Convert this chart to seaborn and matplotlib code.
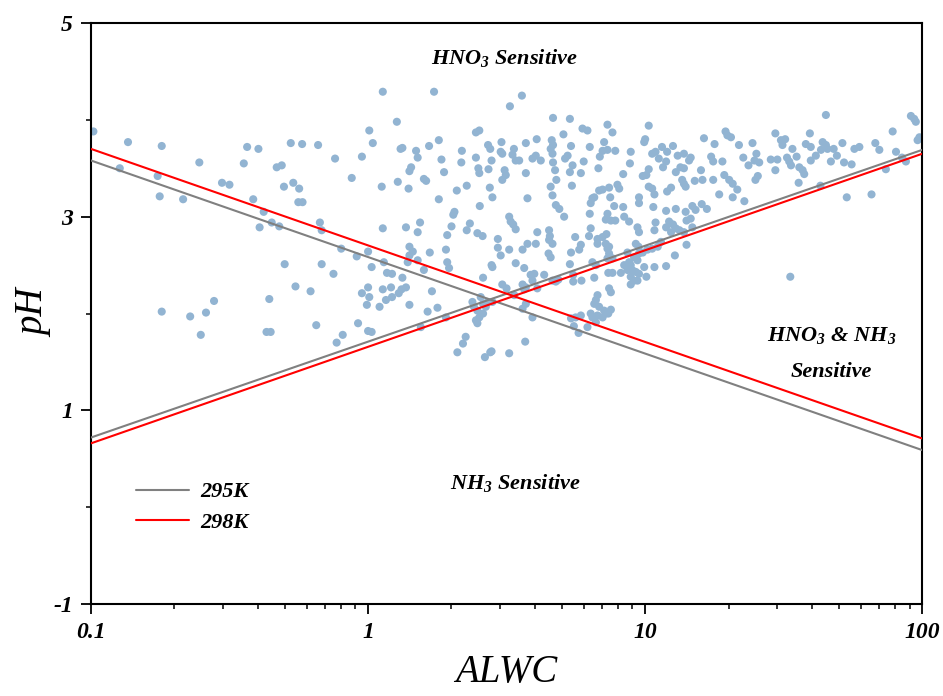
import pandas as pd
import numpy as np
import matplotlib
matplotlib.use('Agg')
import matplotlib.pyplot as plt
import seaborn as sns

# datos (ALWC, pH)
alwc = [
    0.102, 0.136, 0.18, 0.127, 0.246, 0.174, 0.177, 0.215, 0.297, 0.316, 0.356, 0.366, 0.402, 0.385, 0.42, 0.406,
    0.449, 0.478, 0.468, 0.488, 0.526, 0.578, 0.66, 0.497, 0.537, 0.564, 0.56, 0.58, 0.76, 0.873, 0.67, 0.68,
    0.80, 0.91, 0.50, 0.68, 0.75, 0.547, 0.62, 0.18, 0.228, 0.26, 0.278, 0.249, 0.44, 0.43, 0.445, 0.65,
    0.77, 0.81, 0.92,
    1.13, 1.73, 3.59, 3.25, 1.27, 1.01, 1.04, 0.95, 2.45, 2.52, 1.80, 1.66, 1.31, 1.33, 1.49, 1.51,
    1.84, 2.18, 2.17, 2.45, 2.71, 2.76, 2.79, 3.03, 3.01, 3.05, 3.36, 3.32, 3.41, 3.51, 3.71, 4.06,
    3.92, 4.03, 4.20, 1.43, 1.41, 1.88, 2.50, 2.52, 2.72, 3.11, 3.14, 3.05, 3.71, 1.28, 1.12, 1.40,
    1.59, 1.62, 1.80, 2.09, 2.27, 2.75, 2.81, 2.53, 3.76, 2.05, 2.03, 3.23, 3.27, 3.34, 3.41, 1.13,
    1.37, 1.54, 1.51, 2.0, 1.93, 2.33, 2.27, 2.48, 2.59, 2.94, 2.94, 3.01, 3.23, 3.61, 3.76, 4.03,
    4.08, 4.53, 4.48, 1.41, 1.45, 1.41, 1.39, 1.51, 1.67, 1.91, 1.93, 1.96, 1.59, 1.0, 1.14, 1.03,
    1.17, 1.22, 1.33, 2.60, 2.79, 2.81, 3.41, 3.66, 3.86, 3.98, 4.32, 0.95, 1.0, 1.01, 0.99, 1.13,
    1.21, 1.16, 1.22, 1.29, 1.32, 1.37, 1.10, 1.41, 1.70, 1.64, 1.78, 1.55, 1.91, 1.0, 1.03, 2.38,
    2.41, 2.48, 2.55, 2.60, 2.66, 2.60, 2.52, 2.45, 2.48, 2.70, 2.81, 3.05, 3.16, 3.37, 3.61, 3.66,
    3.71, 3.92, 4.08, 3.61, 3.71, 3.92, 2.25, 2.20, 2.10, 2.64, 2.76, 2.79, 3.23, 3.69,
    4.65, 5.35, 4.6, 4.65, 4.56, 4.63, 5.07, 5.94, 6.19, 7.31, 7.62, 10.3, 16.3, 19.5, 19.8, 20.4,
    17.8, 21.8, 5.40, 6.31, 7.11, 7.02, 7.31, 7.80, 6.86, 5.14, 5.25, 4.65, 6.0, 5.47, 5.35, 4.73,
    4.78, 5.86, 6.78, 8.87, 8.81, 8.33, 9.92, 10.0, 10.6, 10.9, 11.5, 12.0, 12.6, 11.2, 11.9, 11.6,
    13.1, 13.8, 14.4, 14.6, 13.4, 13.8, 12.9, 10.3, 10.1, 9.8, 17.3, 17.6, 19.0, 15.9, 15.1, 16.1,
    19.3, 20.1, 20.7, 17.6, 13.6, 13.8, 14.0, 21.5, 18.5, 20.7, 22.8, 10.3, 10.6, 10.8, 12.0, 12.4,
    9.5, 9.5, 10.7, 8.33, 7.41, 7.94, 8.06, 7.48, 6.45, 6.55, 6.36, 6.82, 7.02, 7.73, 4.56, 4.63,
    4.76, 4.9, 5.10, 5.44, 6.31, 7.31, 7.21, 7.52, 7.80, 8.40, 8.75, 9.38, 9.5, 11.9, 12.9, 10.9,
    10.8, 12.2, 11.9, 12.6, 12.9, 12.4, 13.3, 13.8, 14.0, 14.8, 15.2, 14.6, 14.1, 14.8, 16.0, 16.7,
    14.1, 12.8, 11.9, 4.50, 4.50, 4.63, 4.56, 5.59, 6.36, 6.27, 6.73, 6.73, 7.02, 7.25, 7.21, 7.31,
    5.86, 5.78, 5.40, 5.35, 7.41, 7.41, 7.31, 7.62, 6.45, 6.64, 8.63, 9.25, 9.46, 9.5, 9.12, 9.38,
    9.8, 10.2, 10.6, 11.1, 11.4, 8.75, 8.40, 8.87, 8.63, 8.98, 9.25, 9.5, 8.87, 9.12, 9.38, 10.1,
    9.92, 10.8, 8.17, 7.36, 7.62, 6.55, 5.89, 5.50, 5.50, 4.63, 4.76, 4.86, 8.87, 7.41, 7.52, 6.73,
    6.64, 6.55, 6.82, 7.11, 7.52, 7.36, 6.36, 6.45, 6.73, 7.02, 7.21, 6.64, 5.40, 5.61, 5.86, 5.53,
    5.75, 6.19,
    44.9, 91, 93.5, 94.8, 78.2, 29.5, 39.3, 30.9, 32.0, 31.3, 24.4, 38.0, 39.6, 43.7, 44.9, 45.5,
    43.1, 47.9, 51.5, 56.9, 59.3, 67.7, 70, 96.2, 97.7, 34.0, 35.2, 32.5, 33.1, 33.6, 28.4, 30.0,
    25.2, 24.8, 25.8, 23.6, 22.6, 36.0, 37.0, 37.5, 39.6, 41.3, 46.8, 49.2, 52.2, 55.6, 80.4, 84.5,
    87.3, 73.9, 29.5, 25.5, 25.0, 35.8, 42.9, 53.4, 65.6, 33.4,
]
ph = [
    3.88, 3.77, 3.73, 3.50, 3.56, 3.42, 3.21, 3.18, 3.35, 3.33, 3.55, 3.72, 3.70, 3.18, 3.05, 2.89,
    2.94, 2.90, 3.51, 3.53, 3.76, 3.75, 3.74, 3.31, 3.35, 3.29, 3.15, 3.15, 3.60, 3.40, 2.94, 2.86,
    2.67, 2.59, 2.51, 2.51, 2.41, 2.28, 2.23, 2.02, 1.97, 2.01, 2.13, 1.78, 2.15, 1.81, 1.81, 1.88,
    1.70, 1.78, 1.90,
    4.29, 4.29, 4.25, 4.14, 3.98, 3.89, 3.76, 3.62, 3.87, 3.89, 3.79, 3.73, 3.70, 3.71, 3.68, 3.61,
    3.59, 3.68, 3.56, 3.61, 3.74, 3.70, 3.58, 3.77, 3.67, 3.65, 3.70, 3.64, 3.58, 3.58, 3.76, 3.80,
    3.60, 3.63, 3.58, 3.51, 3.47, 3.46, 3.50, 3.45, 3.49, 3.48, 3.43, 3.38, 3.45, 3.36, 3.31, 3.29,
    3.39, 3.37, 3.18, 3.27, 3.32, 3.30, 3.20, 3.11, 3.19, 3.05, 3.02, 3.00, 2.95, 2.92, 2.87, 2.88,
    2.89, 2.94, 2.84, 2.90, 2.81, 2.93, 2.86, 2.83, 2.80, 2.77, 2.68, 2.60, 2.66, 2.66, 2.72, 2.72,
    2.84, 2.80, 2.62, 2.69, 2.64, 2.60, 2.53, 2.55, 2.63, 2.66, 2.53, 2.47, 2.45, 2.64, 2.53, 2.48,
    2.42, 2.41, 2.37, 2.37, 2.50, 2.48, 2.52, 2.47, 2.40, 2.41, 2.40, 2.21, 2.27, 2.17, 2.09, 2.25,
    2.27, 2.14, 2.17, 2.21, 2.25, 2.27, 2.07, 2.09, 2.23, 2.02, 2.06, 1.86, 1.96, 1.82, 1.81, 2.12,
    2.07, 2.03, 2.17, 2.10, 2.07, 2.00, 1.96, 1.93, 1.90, 2.12, 2.12, 2.30, 2.26, 2.19, 2.30, 2.25,
    2.27, 2.34, 2.26, 2.05, 2.10, 1.96, 1.76, 1.69, 1.60, 1.55, 1.60, 1.61, 1.59, 1.71,
    4.02, 4.01, 3.79, 3.74, 3.70, 3.65, 3.85, 3.91, 3.89, 3.95, 3.87, 3.94, 3.81, 3.88, 3.84, 3.82,
    3.75, 3.74, 3.73, 3.72, 3.77, 3.68, 3.69, 3.68, 3.62, 3.60, 3.63, 3.56, 3.57, 3.53, 3.46, 3.48,
    3.38, 3.45, 3.50, 3.67, 3.55, 3.44, 3.77, 3.80, 3.65, 3.67, 3.72, 3.67, 3.73, 3.60, 3.57, 3.51,
    3.63, 3.65, 3.58, 3.61, 3.51, 3.50, 3.46, 3.49, 3.43, 3.42, 3.62, 3.57, 3.57, 3.48, 3.37, 3.38,
    3.43, 3.38, 3.34, 3.38, 3.38, 3.34, 3.31, 3.28, 3.23, 3.20, 3.16, 3.31, 3.29, 3.23, 3.26, 3.30,
    3.20, 3.14, 3.10, 3.10, 3.30, 3.33, 3.29, 3.20, 3.19, 3.20, 3.14, 3.27, 3.28, 3.11, 3.31, 3.22,
    3.12, 3.08, 3.00, 3.32, 3.03, 3.03, 2.97, 2.96, 2.96, 3.00, 2.95, 2.89, 2.84, 3.06, 3.08, 2.94,
    2.86, 2.95, 2.89, 2.92, 2.88, 2.84, 2.86, 2.84, 3.05, 3.11, 3.07, 2.98, 2.96, 2.89, 3.13, 3.08,
    2.71, 2.60, 2.49, 2.86, 2.76, 2.72, 2.58, 2.79, 2.88, 2.80, 2.77, 2.72, 2.79, 2.82, 2.72, 2.67,
    2.71, 2.66, 2.63, 2.51, 2.69, 2.62, 2.57, 2.57, 2.53, 2.50, 2.63, 2.72, 2.69, 2.62, 2.58, 2.55,
    2.63, 2.66, 2.67, 2.69, 2.74, 2.53, 2.50, 2.50, 2.45, 2.45, 2.43, 2.41, 2.38, 2.34, 2.34, 2.38,
    2.48, 2.48, 2.42, 2.42, 2.42, 2.37, 2.34, 2.33, 2.40, 2.34, 2.33, 2.35, 2.30, 2.26, 2.22, 2.19,
    2.14, 2.10, 2.07, 2.03, 2.04, 2.00, 2.00, 1.96, 1.98, 1.96, 2.00, 1.91, 1.95, 1.96, 1.98, 1.87,
    1.80, 1.86,
    4.05, 4.04, 4.01, 3.98, 3.88, 3.86, 3.86, 3.79, 3.80, 3.74, 3.76, 3.75, 3.72, 3.77, 3.74, 3.70,
    3.69, 3.70, 3.76, 3.70, 3.72, 3.76, 3.69, 3.79, 3.82, 3.70, 3.62, 3.61, 3.57, 3.53, 3.59, 3.59,
    3.65, 3.58, 3.56, 3.53, 3.61, 3.51, 3.48, 3.44, 3.58, 3.63, 3.57, 3.63, 3.56, 3.54, 3.67, 3.61,
    3.57, 3.49, 3.48, 3.42, 3.38, 3.35, 3.32, 3.20, 3.23, 2.38,
]

# lineas de sensibilidad (extremos en ALWC = 0.1 y 100)
linea_alwc = [0.1, 100, 0.1, 100]
ph_295 = [3.58, 0.59, 0.72, 3.69]
ph_298 = [3.70, 0.71, 0.66, 3.65]
tramo = ['baja', 'baja', 'sube', 'sube']

df_puntos = pd.DataFrame({'ALWC': alwc, 'pH': ph})
df_lineas = pd.concat([
    pd.DataFrame({'ALWC': linea_alwc, 'pH': ph_295, 'T': '295K', 'tramo': tramo}),
    pd.DataFrame({'ALWC': linea_alwc, 'pH': ph_298, 'T': '298K', 'tramo': tramo}),
])

sns.set_style('ticks')
plt.rcParams['font.family'] = ['Liberation Serif', 'DejaVu Serif']
plt.rcParams['font.weight'] = 'bold'
plt.rcParams['font.style'] = 'italic'
plt.rcParams['mathtext.fontset'] = 'custom'
plt.rcParams['mathtext.rm'] = 'Liberation Serif:bold:italic'
plt.rcParams['mathtext.it'] = 'Liberation Serif:bold:italic'
plt.rcParams['mathtext.bf'] = 'Liberation Serif:bold:italic'
plt.rcParams['axes.unicode_minus'] = False
for clave in ['text.color', 'axes.labelcolor', 'xtick.color', 'ytick.color', 'axes.edgecolor']:
    plt.rcParams[clave] = 'black'

fig = plt.figure(figsize=(9.43, 6.96), dpi=100)
ax = fig.add_axes([0.0965, 0.132, 0.8815, 0.835])

sns.scatterplot(data=df_puntos, x='ALWC', y='pH', color='#92b4d2', s=34,
                edgecolor='none', linewidth=0, ax=ax, zorder=2)
sns.lineplot(data=df_lineas, x='ALWC', y='pH', hue='T', units='tramo', estimator=None,
             palette={'295K': '#808080', '298K': '#ff0000'}, linewidth=1.5, ax=ax, zorder=3)

ax.set_xscale('log')
ax.set_xlim(0.1, 100)
ax.set_ylim(-1, 5)
ax.set_xticks([0.1, 1, 10, 100])
ax.set_xticklabels(['0.1', '1', '10', '100'])
ax.set_yticks([-1, 1, 3, 5])
ax.set_yticks([0, 2, 4], minor=True)
ax.tick_params(which='major', length=7, width=1.3, labelsize=17, direction='out', pad=6)
ax.tick_params(which='minor', length=3.5, width=1.1, direction='out')
for lado in ax.spines.values():
    lado.set_linewidth(1.5)
    lado.set_visible(True)

ax.set_xlabel('ALWC', fontsize=28, labelpad=8)
ax.set_ylabel('pH', fontsize=28, labelpad=0)

ax.text(3.1, 4.64, r'HNO$_3$ Sensitive', fontsize=16, ha='center', va='center')
ax.text(3.4, 0.25, r'NH$_3$ Sensitive', fontsize=16, ha='center', va='center')
ax.text(47, 1.77, r'HNO$_3$ & NH$_3$', fontsize=16, ha='center', va='center')
ax.text(47, 1.40, 'Sensitive', fontsize=16, ha='center', va='center')

ax.legend(loc='upper left', bbox_to_anchor=(0.03, 0.245), frameon=False, fontsize=16,
          handlelength=2.4, handletextpad=0.5, labelspacing=0.45, title=None)

plt.savefig('out.png', dpi=100)
